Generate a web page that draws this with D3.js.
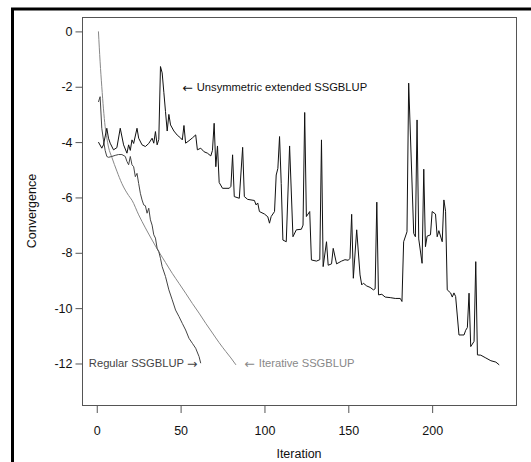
<!DOCTYPE html>
<html>
<head>
<meta charset="utf-8">
<script src="https://cdn.jsdelivr.net/npm/d3@7"></script>
<style>
  body { margin: 0; background: #fff; }
  svg { display: block; font-family: "Liberation Sans", Arial, sans-serif; }
</style>
</head>
<body>
<div id="chart"></div>
<script>
// [iteration, log10 convergence]
let unsymmetric = [
  [1,-4.0],[3,-4.22],[4,-4.1],[6,-3.5],[7,-3.86],[8,-4.04],[10,-4.28],[12,-4.2],[14,-3.5],[16,-4.1],
  [18,-4.4],[19,-4.1],[20,-4.3],[21,-3.92],[22,-4.05],[24,-3.5],[25,-3.86],[27,-4.1],[29,-4.16],[31,-4.05],
  [33,-3.86],[34,-4.04],[35,-3.62],[36,-4.1],[37,-3.9],[38,-1.27],[39,-1.5],[40,-2.2],[41,-2.9],[42,-3.6],
  [43,-3.0],[44,-3.38],[46,-3.6],[48,-3.75],[50,-3.85],[51,-3.92],[52,-3.4],[53,-4.04],[55,-3.95],[57,-3.85],
  [59,-3.74],[60,-4.28],[62,-4.22],[64,-4.35],[66,-4.4],[68,-4.5],[69,-4.3],[70,-3.32],[71,-4.89],[72,-4.14],
  [73,-5.46],[75,-5.67],[79,-5.67],[80,-5.6],[81,-4.46],[82,-5.97],[85,-6.03],[87,-4.19],[88,-5.97],[90,-6.07],
  [94,-6.11],[95,-6.27],[96,-6.2],[97,-6.51],[100,-6.6],[102,-6.7],[103,-6.93],[104,-6.69],[106,-6.51],[107,-5.19],
  [108,-4.95],[109,-3.8],[110,-5.5],[111,-7.54],[113,-7.6],[115,-4.14],[117,-7.42],[119,-7.17],[122,-7.15],[123,-7.0],
  [124,-2.93],[125,-6.69],[127,-6.51],[128,-8.26],[131,-8.3],[133,-8.25],[134,-3.92],[135,-8.5],[137,-7.6],[138,-8.45],
  [140,-8.4],[141,-7.84],[143,-8.4],[146,-8.3],[148,-8.25],[150,-8.27],[151,-8.2],[152,-6.61],[153,-8.92],[155,-7.17],
  [157,-8.8],[158,-9.16],[159,-9.1],[161,-9.2],[163,-9.25],[165,-9.34],[166,-9.3],[167,-6.17],[168,-9.52],[170,-9.5],
  [172,-9.6],[175,-9.62],[178,-9.65],[181,-9.65],[182,-9.76],[183,-7.6],[185,-7.24],[186,-1.87],[189,-7.3],[190,-7.42],
  [191,-3.2],[192,-7.5],[194,-8.38],[195,-4.98],[196,-7.78],[197,-7.4],[199,-7.35],[200,-6.51],[202,-6.6],[203,-7.42],
  [204,-7.2],[206,-7.6],[207,-6.09],[208,-6.5],[209,-9.34],[211,-9.45],[212,-9.6],[213,-9.45],[214,-9.58],[216,-10.97],
  [219,-10.97],[220,-10.8],[221,-10.7],[222,-9.46],[223,-11.39],[225,-11.2],[226,-8.32],[227,-11.69],[229,-11.7],[232,-11.8],
  [235,-11.9],[238,-11.95],[240,-12.05]
];

let regular = [
  [1,-2.55],[2,-2.36],[3,-3.5],[4,-3.92],[5,-4.3],[6,-4.52],[7,-4.55],[9,-4.52],[11,-4.48],[13,-4.45],
  [15,-4.45],[17,-4.52],[18,-4.7],[19,-4.82],[20,-4.52],[21,-4.82],[22,-4.89],[23,-5.25],[24,-5.13],[25,-5.5],
  [26,-5.85],[27,-6.09],[28,-6.27],[29,-6.3],[30,-6.57],[31,-6.39],[32,-6.81],[33,-7.0],[34,-7.35],[35,-7.47],
  [36,-7.84],[37,-7.96],[38,-8.2],[39,-8.5],[41,-8.86],[43,-9.34],[45,-9.7],[47,-10.07],[49,-10.3],[51,-10.55],
  [53,-10.79],[55,-11.09],[57,-11.27],[59,-11.45],[61,-11.75],[62,-11.99]
];

let iterative = [
  [1,0],[2,-1.1],[3,-2.0],[4,-2.8],[5,-3.44],[6,-3.85],[7,-4.18],[9,-4.55],[12,-5.05],[15,-5.5],
  [19,-5.93],[21,-6.1],[25,-6.63],[29,-7.1],[33,-7.54],[37,-7.96],[41,-8.35],[45,-8.74],[49,-9.1],[53,-9.46],
  [57,-9.83],[61,-10.18],[65,-10.55],[69,-10.9],[73,-11.25],[77,-11.57],[80,-11.8],[83,-12.05]
];

let xTicks = [0, 50, 100, 150, 200];
let yTicks = [0, -2, -4, -6, -8, -10, -12];

let width = 531, height = 462;
let box = {left: 82, top: 17, right: 516, bottom: 405};

let svg = d3.select('#chart')
        .append('svg')
        .attr('width', width)
        .attr('height', height);

// thick outer frame, runs off the right and bottom edge
svg.append('rect')
        .attr('x', 12.5).attr('y', 9)
        .attr('width', 560).attr('height', 500)
        .style('fill', 'none')
        .style('stroke', '#000')
        .style('stroke-width', 3);

let xScale = d3.scaleLinear().domain([-8.8, 250]).range([box.left, box.right]);
let yScale = d3.scaleLinear().domain([-13.5, 0.52]).range([box.bottom, box.top]);

svg.append('rect')
        .attr('x', box.left + 0.5).attr('y', box.top + 0.5)
        .attr('width', box.right - box.left).attr('height', box.bottom - box.top)
        .style('fill', 'none')
        .style('stroke', '#555');

let yAxis = d3.axisLeft(yScale).tickValues(yTicks).tickSize(7).tickPadding(3)
        .tickFormat(function(d) { return String(d); });
let xAxis = d3.axisBottom(xScale).tickValues(xTicks).tickSize(7).tickPadding(13)
        .tickFormat(function(d) { return String(d); });

let yAxis_g = svg.append('g')
        .attr('transform', 'translate(' + (box.left + 0.5) + ',0)')
        .call(yAxis);
let xAxis_g = svg.append('g')
        .attr('transform', 'translate(0,' + (box.bottom + 1) + ')')
        .call(xAxis);

[yAxis_g, xAxis_g].forEach(function(g) {
  g.select('.domain').remove();
  g.selectAll('.tick line').style('stroke', '#555');
  g.selectAll('.tick text')
        .style('font-family', '"Liberation Sans", Arial, sans-serif')
        .style('font-size', '12.5px')
        .style('fill', '#111');
});

svg.append('text')
        .attr('transform', 'translate(31.5,' + ((box.top + box.bottom) / 2) + ') rotate(-90)')
        .attr('text-anchor', 'middle')
        .attr('dominant-baseline', 'central')
        .style('font-size', '12.5px')
        .style('fill', '#111')
        .text('Convergence');

svg.append('text')
        .attr('x', (box.left + box.right) / 2)
        .attr('y', 458)
        .attr('text-anchor', 'middle')
        .style('font-size', '12.5px')
        .style('fill', '#111')
        .text('Iteration');

let line = d3.line()
        .x(function(d) { return xScale(d[0]); })
        .y(function(d) { return yScale(d[1]); });

let smooth = d3.line()
        .curve(d3.curveMonotoneX)
        .x(function(d) { return xScale(d[0]); })
        .y(function(d) { return yScale(d[1]); });

svg.append('path')
        .datum(iterative)
        .attr('d', smooth)
        .style('fill', 'none')
        .style('stroke', '#888')
        .style('stroke-width', 1);

svg.append('path')
        .datum(regular)
        .attr('d', line)
        .style('fill', 'none')
        .style('stroke', '#444')
        .style('stroke-width', 1);

svg.append('path')
        .datum(unsymmetric)
        .attr('d', line)
        .style('fill', 'none')
        .style('stroke', '#111')
        .style('stroke-width', 1);

// labels next to the curves; arrows in DejaVu, which draws them full width
let labels = [
  {x: 51, y: -2, pre: '\u2190 ', text: 'Unsymmetric extended SSGBLUP', post: '', anchor: 'start', color: '#111'},
  {x: 60, y: -12, pre: '', text: 'Regular SSGBLUP ', post: '\u2192', anchor: 'end', color: '#444'},
  {x: 88, y: -12, pre: '\u2190 ', text: 'Iterative SSGBLUP', post: '', anchor: 'start', color: '#888'}
];

let label = svg.selectAll('.label')
        .data(labels)
        .enter().append('text')
        .attr('class', 'label')
        .attr('x', function(d) { return xScale(d.x); })
        .attr('y', function(d) { return yScale(d.y); })
        .attr('text-anchor', function(d) { return d.anchor; })
        .attr('dominant-baseline', 'central')
        .style('font-size', '11.2px')
        .style('fill', function(d) { return d.color; });

label.append('tspan')
        .style('font-family', '"DejaVu Sans", sans-serif')
        .style('font-size', '12.5px')
        .text(function(d) { return d.pre; });
label.append('tspan')
        .text(function(d) { return d.text; });
label.append('tspan')
        .style('font-family', '"DejaVu Sans", sans-serif')
        .style('font-size', '12.5px')
        .text(function(d) { return d.post; });
</script>
</body>
</html>
